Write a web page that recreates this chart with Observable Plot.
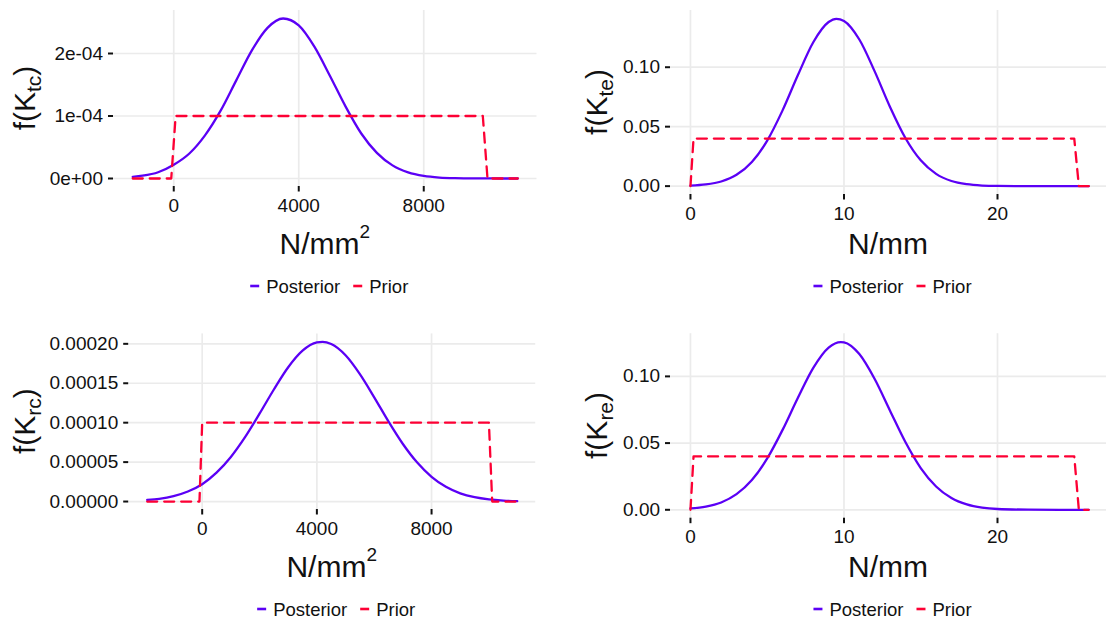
<!DOCTYPE html>
<html><head><meta charset="utf-8">
<script src="https://cdn.jsdelivr.net/npm/d3@7"></script>
<script src="https://cdn.jsdelivr.net/npm/@observablehq/plot@0.6"></script>
<style>
html,body{margin:0;padding:0;background:#fff;}
#root{position:relative;width:1106px;height:622px;overflow:hidden;font-family:"Liberation Sans",Arial,Helvetica,sans-serif;}
#root > svg{position:absolute;}
</style></head><body><div id="root"></div>
<script>
// ---------- data ----------
const seriesNames = ["Posterior", "Prior"];

// K_tc
const tcX = [-1312,-1000,-500,0,500,1000,1500,2000,2500,3000,3500,4000,4500,5000,5500,6000,6500,7000,7500,8000,8500,9000,9500,10000,10500,11008];
const tcPosterior = [2.7e-6,4.5e-6,1.0e-5,2.2e-5,4.0e-5,6.9e-5,1.085e-4,1.57e-4,2.05e-4,2.41e-4,2.56e-4,2.45e-4,2.11e-4,1.64e-4,1.15e-4,7.2e-5,4.1e-5,2.1e-5,9.8e-6,4.1e-6,1.5e-6,5e-7,2e-7,1e-7,0,0];
const tcPriorX = [-1312,-80,60,9890,10040,11008];
const tcPrior = [0,0,1e-4,1e-4,0,0];
const tcXTicks = [0,4000,8000];
const tcXLabels = ["0","4000","8000"];
const tcYTicks = [0,1e-4,2e-4];
const tcYLabels = ["0e+00","1e-04","2e-04"];

// K_te
const teX = [0,1,2,3,4,5,6,7,8,9,9.5,10,11,12,13,14,15,16,17,18,19,20,22,24,25.94];
const tePosterior = [0.00045,0.0014,0.0039,0.0095,0.0203,0.0383,0.0637,0.0934,0.121,0.138,0.1407,0.1389,0.1233,0.0965,0.0666,0.0405,0.0217,0.0103,0.0043,0.0016,0.0005,0.00015,0.00002,0,0];
const tePriorX = [0,0.2,25.0,25.3,25.94];
const tePrior = [0,0.04,0.04,0,0];
const teXTicks = [0,10,20];
const teXLabels = ["0","10","20"];
const teYTicks = [0,0.05,0.10];
const teYLabels = ["0.00","0.05","0.10"];

// K_rc
const rcX = [-1918,-1500,-1000,-500,0,500,1000,1500,2000,2500,3000,3500,4000,4200,4500,5000,5500,6000,6500,7000,7500,8000,8500,9000,9500,10000,10500,10987];
const rcPosterior = [2.0e-6,3.4e-6,6.8e-6,1.27e-5,2.2e-5,3.66e-5,5.65e-5,8.19e-5,1.114e-4,1.421e-4,1.703e-4,1.913e-4,2.018e-4,2.025e-4,1.997e-4,1.855e-4,1.616e-4,1.322e-4,1.014e-4,7.3e-5,4.94e-5,3.13e-5,1.86e-5,1.04e-5,5.5e-6,2.7e-6,1.2e-6,5e-7];
const rcPriorX = [-1918,-95,0,10000,10115,10987];
const rcPrior = [0,0,1e-4,1e-4,0,0];
const rcXTicks = [0,4000,8000];
const rcXLabels = ["0","4000","8000"];
const rcYTicks = [0,5e-5,1e-4,1.5e-4,2e-4];
const rcYLabels = ["0.00000","0.00005","0.00010","0.00015","0.00020"];

// K_re
const reX = [0,1,2,3,4,5,6,7,8,9,9.8,10,11,12,13,14,15,16,17,18,19,20,22,24,25.94];
const rePosterior = [0.001,0.0024,0.0055,0.0117,0.0223,0.0385,0.0599,0.084,0.1064,0.1216,0.1257,0.1255,0.1167,0.098,0.0743,0.0508,0.0313,0.0175,0.0088,0.004,0.0016,0.0006,0.0001,0,0];
const rePriorX = [0,0.2,25.0,25.3,25.94];
const rePrior = [0,0.04,0.04,0,0];
const reXTicks = [0,10,20];
const reXLabels = ["0","10","20"];
const reYTicks = [0,0.05,0.10];
const reYLabels = ["0.00","0.05","0.10"];

// ---------- layout ----------
const PURPLE = "#5b00f5";
const RED = "#fd0034";
const FONT = "'Liberation Sans', Arial, Helvetica, sans-serif";

const panels = [
  {sub:"tc", unitSup:true, cellX:0, cellY:0, pl:113, pr:536.5, pt:10, pb:186, xd:[-1928,11624], yd:[-1.28e-5,2.688e-4],
   px:tcX, py:tcPosterior, qx:tcPriorX, qy:tcPrior, xt:tcXTicks, xl:tcXLabels, yt:tcYTicks, yl:tcYLabels,
   titleX:35, xTitleY:254, legendY:286},
  {sub:"te", unitSup:false, cellX:553, cellY:0, pl:670, pr:1106, pt:10, pb:194, xd:[-1.3,27.1], yd:[-0.00704,0.1477],
   px:teX, py:tePosterior, qx:tePriorX, qy:tePrior, xt:teXTicks, xl:teXLabels, yt:teYTicks, yl:teYLabels,
   titleX:607, xTitleY:254, legendY:286},
  {sub:"rc", unitSup:true, cellX:0, cellY:311, pl:128.2, pr:535.2, pt:333.4, pb:509, xd:[-2563,11632], yd:[-1.01e-5,2.126e-4],
   px:rcX, py:rcPosterior, qx:rcPriorX, qy:rcPrior, xt:rcXTicks, xl:rcXLabels, yt:rcYTicks, yl:rcYLabels,
   titleX:35, xTitleY:577, legendY:609},
  {sub:"re", unitSup:false, cellX:553, cellY:311, pl:670, pr:1106, pt:333.2, pb:517.7, xd:[-1.3,27.1], yd:[-0.00629,0.1320],
   px:reX, py:rePosterior, qx:rePriorX, qy:rePrior, xt:reXTicks, xl:reXLabels, yt:reYTicks, yl:reYLabels,
   titleX:607, xTitleY:577, legendY:609}
];

const root = document.getElementById("root");

for (const p of panels) {
  const posterior = p.px.map((x, i) => ({x, y: p.py[i], s: seriesNames[0]}));
  const prior = p.qx.map((x, i) => ({x, y: p.qy[i], s: seriesNames[1]}));
  const mb = 34;
  const height = (p.pb - p.cellY) + mb;
  const chart = Plot.plot({
    width: 553,
    height,
    marginLeft: p.pl - p.cellX,
    marginRight: p.cellX + 553 - p.pr,
    marginTop: p.pt - p.cellY,
    marginBottom: mb,
    style: {fontFamily: FONT, fontSize: "19px", color: "#111", background: "transparent", overflow: "visible"},
    x: {domain: p.xd},
    y: {domain: p.yd},
    marks: [
      Plot.gridX(p.xt, {stroke: "#ebebeb", strokeOpacity: 1, strokeWidth: 1.7}),
      Plot.gridY(p.yt, {stroke: "#ebebeb", strokeOpacity: 1, strokeWidth: 1.7}),
      Plot.axisX({ticks: p.xt, tickSize: 5.5, tickPadding: 6, label: null, strokeWidth: 2, fontSize: 19,
        tickFormat: d => p.xl[p.xt.indexOf(d)]}),
      Plot.axisY({ticks: p.yt, tickSize: 5, tickPadding: 5.5, label: null, strokeWidth: 2, fontSize: 19,
        tickFormat: d => p.yl[p.yt.indexOf(d)]}),
      Plot.line(posterior, {x: "x", y: "y", stroke: PURPLE, strokeWidth: 2.3, curve: "monotone-x"}),
      Plot.line(prior, {x: "x", y: "y", stroke: RED, strokeWidth: 2.3, strokeDasharray: "10,7"})
    ]
  });
  chart.style.left = p.cellX + "px";
  chart.style.top = p.cellY + "px";
  root.appendChild(chart);
}

// ---------- titles and legends ----------
const ov = d3.select(root).append("svg")
  .attr("width", 1106).attr("height", 622)
  .style("left", "0px").style("top", "0px").style("pointer-events", "none")
  .attr("font-family", FONT).attr("fill", "#111");

for (const p of panels) {
  const cx = (p.pl + p.pr) / 2;
  const cy = (p.pt + p.pb) / 2;
  // x title
  const xt = ov.append("text").attr("x", cx).attr("y", p.xTitleY).attr("text-anchor", "middle").attr("font-size", 30);
  xt.append("tspan").text("N/mm");
  if (p.unitSup) xt.append("tspan").attr("font-size", 19).attr("dy", -16).text("2");
  // y title
  const yt = ov.append("text").attr("transform", `translate(${p.titleX},${cy}) rotate(-90)`)
    .attr("text-anchor", "middle").attr("font-size", 30);
  yt.append("tspan").text("f(K");
  yt.append("tspan").attr("font-size", 21).attr("dy", 6).text(p.sub);
  yt.append("tspan").attr("dy", -6).text(")");
  // legend
  const g = ov.append("g");
  let x = 0;
  const items = [{name: seriesNames[0], color: PURPLE}, {name: seriesNames[1], color: RED}];
  items.forEach((it, i) => {
    if (i > 0) x += 13;
    g.append("line").attr("x1", x).attr("x2", x + 9).attr("y1", 0).attr("y2", 0)
      .attr("stroke", it.color).attr("stroke-width", 2.6);
    x += 9 + 7;
    const t = g.append("text").attr("x", x).attr("y", 0).attr("dy", "0.36em").attr("font-size", 18.5).text(it.name);
    x += t.node().getComputedTextLength();
  });
  g.attr("transform", `translate(${cx + 4.5 - x / 2},${p.legendY})`);
}
</script></body></html>
